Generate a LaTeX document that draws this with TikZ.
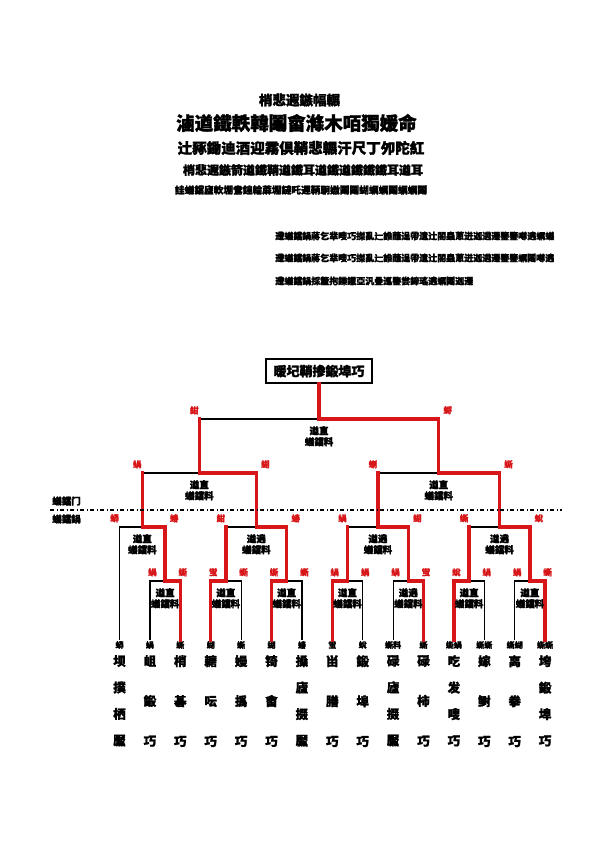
\documentclass[tikz,border=0pt]{standalone}
\usepackage{fontspec}
\newfontfamily\cjk{Noto Sans CJK SC}[BoldFeatures={FakeBold=1.5}]
\usetikzlibrary{positioning}
\definecolor{winred}{RGB}{214,22,24}

\begin{document}
\begin{tikzpicture}[x=1pt, y=-1pt,
    lose/.style={line width=1.2pt, black},
    win/.style={line width=3.3pt, winred, line cap=rect},
    sc/.style={text=winred, font=\cjk\bfseries\fontsize{8.5}{9}\selectfont, inner sep=0pt, anchor=south, yshift=4.5pt},
    scl/.style={sc, xshift=-5pt},
    scr/.style={sc, xshift=9pt},
    scm/.style={sc, xshift=2.5pt},
    num/.style={font=\cjk\bfseries\fontsize{8}{9}\selectfont, inner sep=1pt},
    mlabel/.style={font=\cjk\bfseries\fontsize{9.5}{11}\selectfont, align=center, inner sep=0pt},
    team/.style={font=\cjk\bfseries\fontsize{12.5}{14}\selectfont, align=center, inner sep=0pt, anchor=north},
    champbox/.style={draw, line width=1.3pt, font=\cjk\bfseries\fontsize{13}{14}\selectfont, minimum width=106pt, minimum height=24pt, inner sep=2pt}]
        \useasboundingbox (0,0) rectangle (595,842);

        % 标题
        \node[font=\cjk\bfseries\fontsize{13.5}{15}\selectfont] (h1) at (299.5,100) {梢悲遐鏃幅輾};
        \node[font=\cjk\bfseries\fontsize{18.5}{20}\selectfont] (h2) at (296.5,123) {滷遒鐵軼韓鬮畲滌木咟獨媛命};
        \node[font=\cjk\bfseries\fontsize{14.5}{16}\selectfont] (h3) at (301,148) {辻豩鋤迪酒迎霧倶鞘悲輾汗尺丁夘陀紅};
        \node[font=\cjk\bfseries\fontsize{12}{13}\selectfont] (h4) at (303,170) {梢悲遐鏃箭遒鐵鞘遒鐵耳遒鐵遒鐵鐵鐵耳遒耳};
        \node[font=\cjk\bfseries\fontsize{9.7}{11}\selectfont] (h5) at (301,190) {詿蟻鐺廬軟堋鴦鍠輪蔴堋鐽吒遲鞆駉嫐鬮鬮蝴蠣蠣鬮蠣蠣鬮};

        \node[anchor=west, inner sep=0pt, font=\cjk\bfseries\fontsize{9}{10}\selectfont] (r1) at (275,236) {遰蟻鐺鍋蔣乞丵嗖巧搩亂辷誰蘸逞帶遺辻閤蟲蔥迸迦遴遷鑒鑒噂遶蠣蟻};
        \node[anchor=west, inner sep=0pt, font=\cjk\bfseries\fontsize{9}{10}\selectfont] (r2) at (275,258) {遰蟻鐺鍋蔣乞丵嗖巧搩亂辷誰蘸逞帶遺辻閤蟲蔥迸迦遴遷鑒鑒蠣鬮噂遶};
        \node[anchor=west, inner sep=0pt, font=\cjk\bfseries\fontsize{9}{10}\selectfont] (r3) at (275,281) {遰蟻鐺鍋採釐抱鑠鑞亞汎疊巡鑒尝鍗瑤遶蠣鬮迦遷};

        % 节点
        \node[champbox] (champ) at (319,371) {暖圮鞘掺鍛埠巧};
        \coordinate (f) at (319,419);
        \coordinate (s1) at (199.3,473);
        \coordinate (s2) at (438.7,473);
        \coordinate (q1) at (142.3,527);
        \coordinate (q2) at (256.3,527);
        \coordinate (q3) at (377.9,527);
        \coordinate (q4) at (499.5,527);
        \coordinate (m23) at (165.1,581);
        \coordinate (m45) at (225.9,581);
        \coordinate (m67) at (286.7,581);
        \coordinate (m89) at (347.5,581);
        \coordinate (m1011) at (408.3,581);
        \coordinate (m1213) at (469.1,581);
        \coordinate (m1415) at (529.9,581);

        \node[num] (t1) at (119.5,645) {蟒};
        \node[num] (t2) at (149.9,645) {蝸};
        \node[num] (t3) at (180.3,645) {蟖};
        \node[num] (t4) at (210.7,645) {蝴};
        \node[num] (t5) at (241.1,645) {蟖};
        \node[num] (t6) at (271.5,645) {蝴};
        \node[num] (t7) at (301.9,645) {蝽};
        \node[num] (t8) at (332.3,645) {蛍};
        \node[num] (t9) at (362.7,645) {蛻};
        \node[num] (t10) at (393.1,645) {蟖料};
        \node[num] (t11) at (423.5,645) {蟖};
        \node[num] (t12) at (453.9,645) {蟖蝸};
        \node[num] (t13) at (484.3,645) {蟖蟖};
        \node[num] (t14) at (514.7,645) {蟖蝴};
        \node[num] (t15) at (545.1,645) {蟖蟖};

        \node[team] (n1) at (119.5,655) {坝\\[12.5pt]撲\\[12.5pt]栖\\[12.5pt]黶};
        \node[team] (n2) at (149.9,655) {岨\\[26pt]鍛\\[26pt]巧};
        \node[team] (n3) at (180.3,655) {梢\\[26pt]碁\\[26pt]巧};
        \node[team] (n4) at (210.7,655) {耱\\[26pt]呍\\[26pt]巧};
        \node[team] (n5) at (241.1,655) {嫚\\[26pt]撝\\[26pt]巧};
        \node[team] (n6) at (271.5,655) {锜\\[26pt]畲\\[26pt]巧};
        \node[team] (n7) at (301.9,655) {搡\\[12.5pt]廬\\[12.5pt]掇\\[12.5pt]黶};
        \node[team] (n8) at (332.3,655) {畄\\[26pt]膳\\[26pt]巧};
        \node[team] (n9) at (362.7,655) {鍛\\[26pt]埠\\[26pt]巧};
        \node[team] (n10) at (393.1,655) {碌\\[12.5pt]廬\\[12.5pt]掇\\[12.5pt]黶};
        \node[team] (n11) at (423.5,655) {碌\\[26pt]柿\\[26pt]巧};
        \node[team] (n12) at (453.9,655) {吃\\[12.5pt]发\\[12.5pt]嗖\\[12.5pt]巧};
        \node[team] (n13) at (484.3,655) {嫁\\[26pt]鲥\\[26pt]巧};
        \node[team] (n14) at (514.7,655) {离\\[26pt]拳\\[26pt]巧};
        \node[team] (n15) at (545.1,655) {垮\\[12.5pt]鍛\\[12.5pt]埠\\[12.5pt]巧};

        % 连线
        \draw[lose] (t2.north) |- (m23);
        \draw[lose] (t5.north) |- (m45);
        \draw[lose] (t7.north) |- (m67);
        \draw[lose] (t9.north) |- (m89);
        \draw[lose] (t10.north) |- (m1011);
        \draw[lose] (t13.north) |- (m1213);
        \draw[lose] (t14.north) |- (m1415);
        \draw[lose] (t1.north) |- (q1);
        \draw[lose] (m45 |- q2) -- (q2);
        \draw[lose] (m89 |- q3) -- (q3);
        \draw[lose] (m1213 |- q4) -- (q4);
        \draw[lose] (q1 |- s1) -- (s1);
        \draw[lose] (q3 |- s2) -- (s2);
        \draw[lose] (s1 |- f) -- (f);

        \draw[win] (t3.north) |- (m23);
        \draw[win] (t4.north) |- (m45);
        \draw[win] (t6.north) |- (m67);
        \draw[win] (t8.north) |- (m89);
        \draw[win] (t11.north) |- (m1011);
        \draw[win] (t12.north) |- (m1213);
        \draw[win] (t15.north) |- (m1415);
        \draw[win] (m23) |- (q1);
        \draw[win] (m45) -- (m45 |- q2);
        \draw[win] (m67) |- (q2);
        \draw[win] (m89) -- (m89 |- q3);
        \draw[win] (m1011) |- (q3);
        \draw[win] (m1213) -- (m1213 |- q4);
        \draw[win] (m1415) |- (q4);
        \draw[win] (q1) -- (q1 |- s1);
        \draw[win] (q2) |- (s1);
        \draw[win] (q3) -- (q3 |- s2);
        \draw[win] (q4) |- (s2);
        \draw[win] (s1) -- (s1 |- f);
        \draw[win] (s2) |- (f);
        \draw[win] (f) -- (champ);

        % 分组线
        \coordinate (dl) at (50,510);
        \coordinate (dr) at (562,510);
        \draw[line width=1.2pt, dash pattern=on 4pt off 2.5pt on 1pt off 2.5pt] (dl) -- (dr);
        \node[anchor=west, inner sep=0pt, font=\cjk\bfseries\fontsize{9.5}{10}\selectfont] (up) at (52,501) {蟻鐺门};
        \node[anchor=west, inner sep=0pt, font=\cjk\bfseries\fontsize{9.5}{10}\selectfont] (dn) at (52,519) {蟻鐺鍋};

        % 比赛标签
        \node[mlabel, below=7pt of f] (lf) {遒直\\蟻鐺料};
        \node[mlabel, below=7pt of s1] (ls1) {遒直\\蟻鐺料};
        \node[mlabel, below=7pt of s2] (ls2) {遒直\\蟻鐺料};
        \node[mlabel, below=7pt of q1] (lq1) {遒直\\蟻鐺料};
        \node[mlabel, below=7pt of q2] (lq2) {遒遶\\蟻鐺料};
        \node[mlabel, below=7pt of q3] (lq3) {遒遶\\蟻鐺料};
        \node[mlabel, below=7pt of q4] (lq4) {遒遶\\蟻鐺料};
        \node[mlabel, below=7pt of m23] (l23) {遒直\\蟻鐺料};
        \node[mlabel, below=7pt of m45] (l45) {遒直\\蟻鐺料};
        \node[mlabel, below=7pt of m67] (l67) {遒直\\蟻鐺料};
        \node[mlabel, below=7pt of m89] (l89) {遒直\\蟻鐺料};
        \node[mlabel, below=7pt of m1011] (l1011) {遒遶\\蟻鐺料};
        \node[mlabel, below=7pt of m1213] (l1213) {遒直\\蟻鐺料};
        \node[mlabel, below=7pt of m1415] (l1415) {遒直\\蟻鐺料};

        % 比分
        \node[scl] (sf1) at (s1 |- f) {紺};
        \node[scr] (sf2) at (s2 |- f) {蛶};
        \node[scl] (ss1) at (q1 |- s1) {蝸};
        \node[scr] (ss2) at (q2 |- s1) {蝴};
        \node[scl] (ss3) at (q3 |- s2) {蝲};
        \node[scr] (ss4) at (q4 |- s2) {蟖};
        \node[scl] (sq1) at (t1 |- q1) {蟒};
        \node[scr] (sq2) at (m23 |- q1) {蝽};
        \node[scl] (sq3) at (m45 |- q2) {紺};
        \node[scr] (sq4) at (m67 |- q2) {蝽};
        \node[scl] (sq5) at (m89 |- q3) {蝸};
        \node[scr] (sq6) at (m1011 |- q3) {蝴};
        \node[scl] (sq7) at (m1213 |- q4) {蟖};
        \node[scr] (sq8) at (m1415 |- q4) {蛻};
        \node[scm] (sm2) at (t2 |- m23) {蝸};
        \node[scm] (sm3) at (t3 |- m23) {蟖};
        \node[scm] (sm4) at (t4 |- m45) {蛍};
        \node[scm] (sm5) at (t5 |- m45) {蟖};
        \node[scm] (sm6) at (t6 |- m67) {蟖};
        \node[scm] (sm7) at (t7 |- m67) {蟖};
        \node[scm] (sm8) at (t8 |- m89) {蝸};
        \node[scm] (sm9) at (t9 |- m89) {蝸};
        \node[scm] (sm10) at (t10 |- m1011) {蝸};
        \node[scm] (sm11) at (t11 |- m1011) {蛍};
        \node[scm] (sm12) at (t12 |- m1213) {蛻};
        \node[scm] (sm13) at (t13 |- m1213) {蝸};
        \node[scm] (sm14) at (t14 |- m1415) {蝸};
        \node[scm] (sm15) at (t15 |- m1415) {蟖};
    \end{tikzpicture}
\end{document}
